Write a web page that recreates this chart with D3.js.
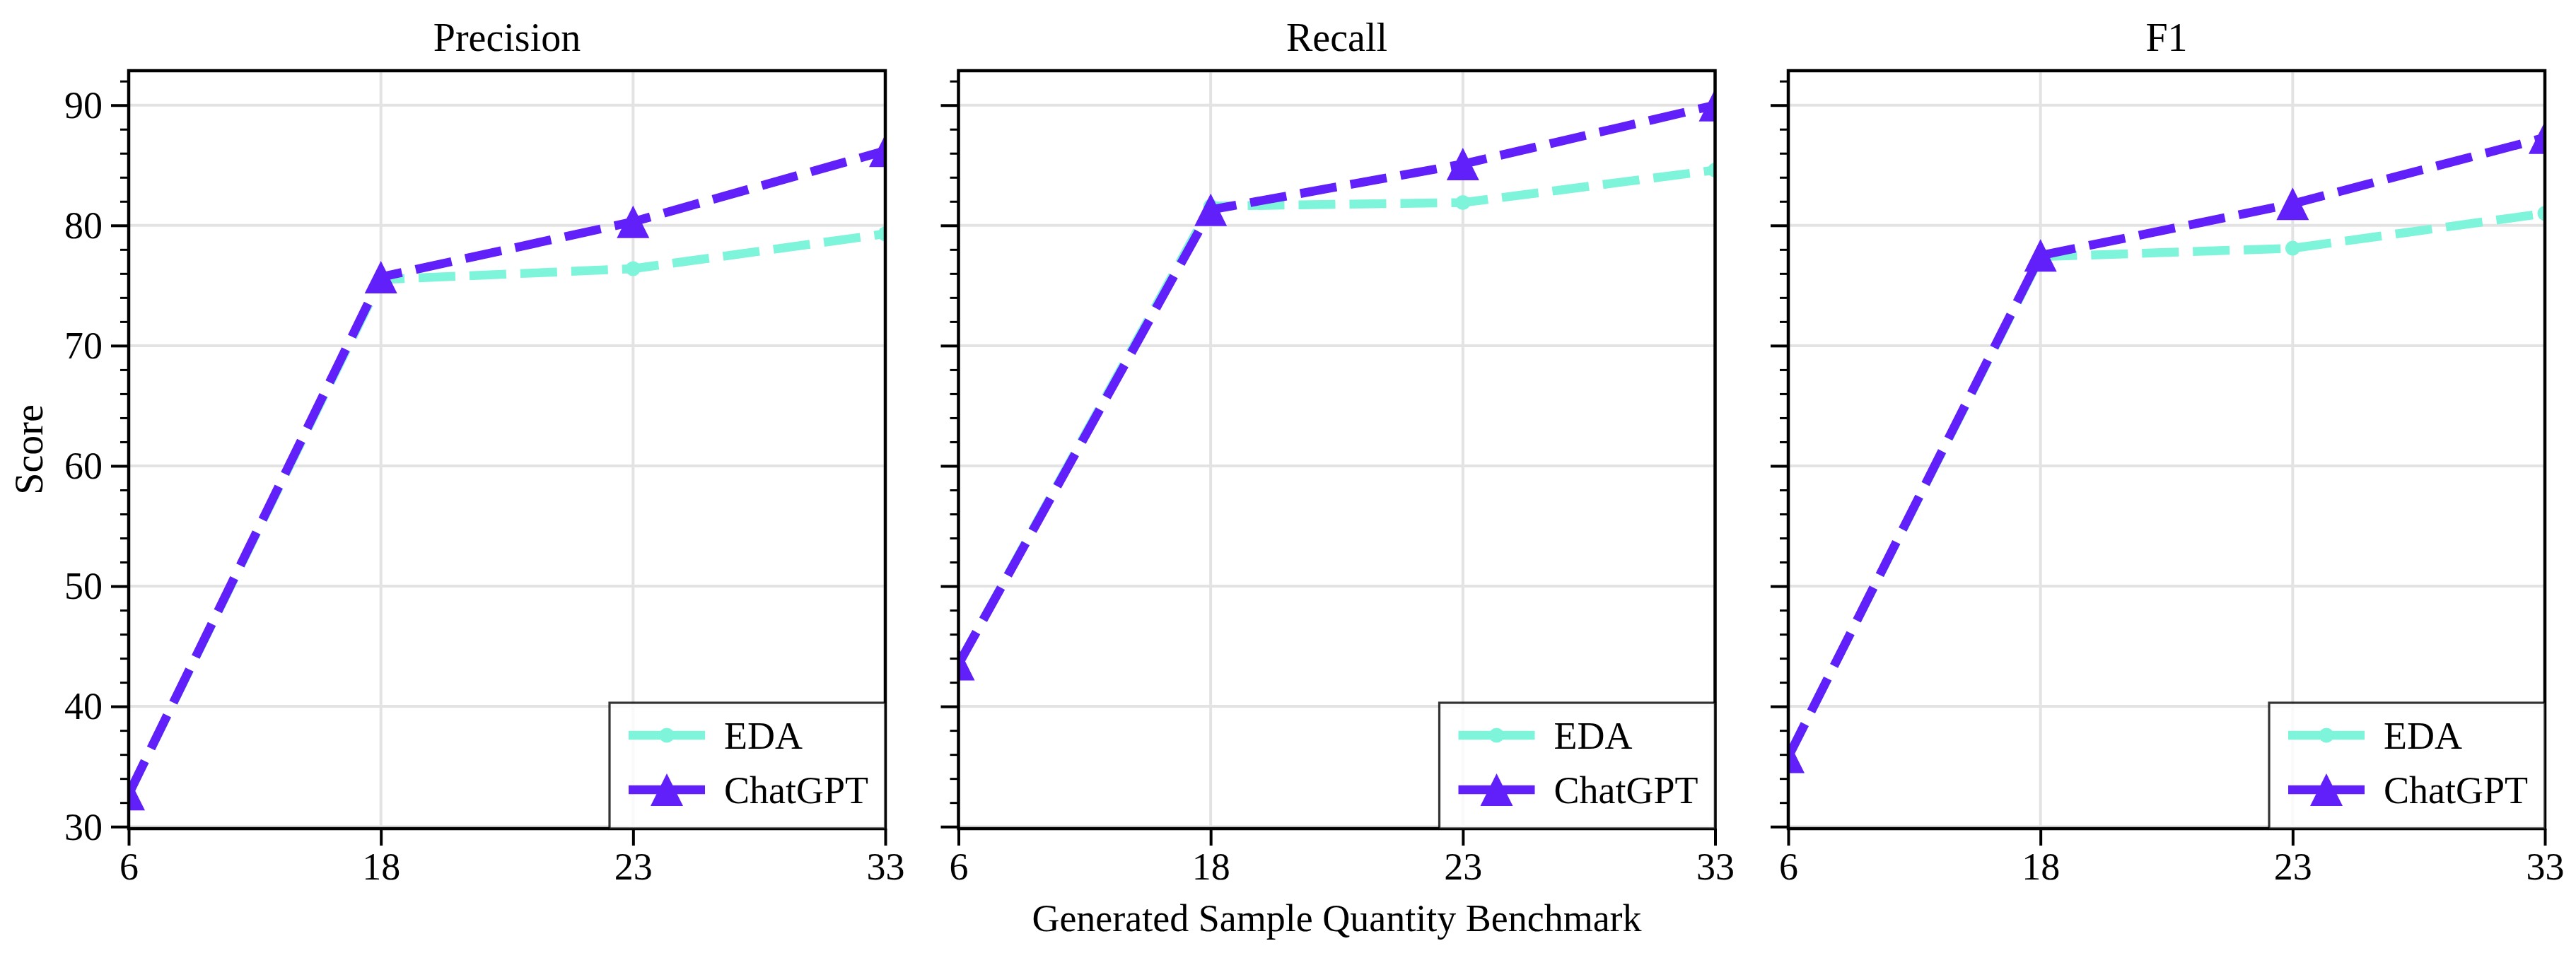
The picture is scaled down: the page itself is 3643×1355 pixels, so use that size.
<!DOCTYPE html>
<html>
<head>
<meta charset="utf-8">
<script src="https://cdn.jsdelivr.net/npm/d3@7"></script>
<style>
  body { margin: 0; background: #fff; }
  svg text { font-family: "Liberation Serif", "Times New Roman", serif; fill: #000; }
</style>
</head>
<body>
<div id="chart"></div>
<script>
// data
const categories = ["6", "18", "23", "33"];
const metrics = ["Precision", "Recall", "F1"];
const seriesNames = ["EDA", "ChatGPT"];

const edaPrecision = [32.7, 75.5, 76.4, 79.3];
const gptPrecision = [32.7, 75.7, 80.3, 86.2];
const edaRecall = [43.5, 81.6, 81.9, 84.6];
const gptRecall = [43.5, 81.3, 85.1, 90.0];
const edaF1 = [35.8, 77.4, 78.1, 81.0];
const gptF1 = [35.8, 77.5, 81.8, 87.3];

const yTickValues = [30, 40, 50, 60, 70, 80, 90];

const colors = { EDA: "#7ef4da", ChatGPT: "#611ff9" };

var panels = [
  { title: metrics[0], EDA: edaPrecision, ChatGPT: gptPrecision },
  { title: metrics[1], EDA: edaRecall, ChatGPT: gptRecall },
  { title: metrics[2], EDA: edaF1, ChatGPT: gptF1 }
];

var svgWidth = 3643;
var svgHeight = 1355;
var plotTop = 100;
var plotBottom = 1172;
var panelLeft = [182, 1355.5, 2529];
var panelWidth = 1070;
var chartHeight = plotBottom - plotTop;

var svg = d3.select("#chart")
  .append("svg")
  .attr("width", svgWidth)
  .attr("height", svgHeight);

// shared y range with matplotlib style 5% margins
var allValues = [].concat(edaPrecision, gptPrecision, edaRecall, gptRecall, edaF1, gptF1);
var yMin = d3.min(allValues), yMax = d3.max(allValues);
var yPad = (yMax - yMin) * 0.05;

var yScale = d3.scaleLinear()
  .domain([yMin - yPad, yMax + yPad])
  .range([chartHeight, 0]);

var xScale = d3.scalePoint()
  .domain(categories)
  .range([0, panelWidth])
  .padding(0);

var minorTicks = d3.range(30, yMax + yPad, 2).filter(v => v % 10 !== 0);

// triangle like matplotlib "^": width == height
var triangleUp = {
  draw: function(ctx, size) {
    var h = Math.sqrt(size) / 2;
    ctx.moveTo(0, -h);
    ctx.lineTo(h, h);
    ctx.lineTo(-h, h);
    ctx.closePath();
  }
};
var markerShape = {
  EDA: d3.symbol().type(d3.symbolCircle).size(Math.PI * 10.5 * 10.5),
  ChatGPT: d3.symbol().type(triangleUp).size(46 * 46)
};

var line = d3.line()
  .x((d, i) => xScale(categories[i]))
  .y(d => yScale(d));

panels.forEach(function(p, pi) {
  var g = svg.append("g")
    .attr("transform", `translate(${panelLeft[pi]}, ${plotTop})`);

  g.append("clipPath")
    .attr("id", "clip" + pi)
    .append("rect")
    .attr("width", panelWidth)
    .attr("height", chartHeight);

  // grid
  g.append("g").selectAll("line")
    .data(yTickValues)
    .enter().append("line")
    .attr("x1", 0).attr("x2", panelWidth)
    .attr("y1", d => yScale(d)).attr("y2", d => yScale(d))
    .attr("stroke", "#e3e3e3").attr("stroke-width", 4);
  g.append("g").selectAll("line")
    .data(categories)
    .enter().append("line")
    .attr("x1", d => xScale(d)).attr("x2", d => xScale(d))
    .attr("y1", 0).attr("y2", chartHeight)
    .attr("stroke", "#e3e3e3").attr("stroke-width", 4);

  // y axis (major + minor)
  var yAxis = d3.axisLeft(yScale)
    .tickValues(yTickValues)
    .tickSize(25)
    .tickPadding(12)
    .tickFormat(pi === 0 ? d3.format("d") : "");
  var yg = g.append("g").call(yAxis);
  yg.select(".domain").remove();
  yg.selectAll(".tick line").attr("stroke", "#000").attr("stroke-width", 4);
  yg.selectAll(".tick text").attr("font-size", 54).attr("dy", "0.33em")
    .style("font-family", "'Liberation Serif', serif");

  var ymg = g.append("g").call(d3.axisLeft(yScale).tickValues(minorTicks).tickSize(12).tickFormat(""));
  ymg.select(".domain").remove();
  ymg.selectAll(".tick line").attr("stroke", "#000").attr("stroke-width", 3);

  // x axis
  var xg = g.append("g")
    .attr("transform", `translate(0, ${chartHeight})`)
    .call(d3.axisBottom(xScale).tickSize(24).tickPadding(10));
  xg.select(".domain").remove();
  xg.selectAll(".tick line").attr("stroke", "#000").attr("stroke-width", 4);
  xg.selectAll(".tick text").attr("font-size", 54)
    .style("font-family", "'Liberation Serif', serif");

  // series
  var plot = g.append("g").attr("clip-path", `url(#clip${pi})`);
  seriesNames.forEach(function(name) {
    plot.append("path")
      .datum(p[name])
      .attr("d", line)
      .attr("fill", "none")
      .attr("stroke", colors[name])
      .attr("stroke-width", 12.5)
      .attr("stroke-dasharray", "52,20")
      .attr("stroke-linejoin", "round");
    plot.selectAll(".m-" + name)
      .data(p[name])
      .enter().append("path")
      .attr("class", "m-" + name)
      .attr("d", markerShape[name])
      .attr("transform", (d, i) => `translate(${xScale(categories[i])}, ${yScale(d)})`)
      .attr("fill", colors[name]);
  });

  // spines
  g.append("rect")
    .attr("width", panelWidth)
    .attr("height", chartHeight)
    .attr("fill", "none")
    .attr("stroke", "#000")
    .attr("stroke-width", 4.5);

  // title
  g.append("text")
    .attr("x", panelWidth / 2)
    .attr("y", 72 - plotTop)
    .attr("text-anchor", "middle")
    .attr("font-size", 56)
    .text(p.title);

  // legend, lower right, flush with the axes
  var lw = 390, lh = 178;
  var leg = g.append("g")
    .attr("transform", `translate(${panelWidth - lw}, ${chartHeight - lh})`);
  leg.append("rect")
    .attr("width", lw).attr("height", lh)
    .attr("fill", "#fff").attr("fill-opacity", 0.8)
    .attr("stroke", "#000").attr("stroke-opacity", 0.8)
    .attr("stroke-width", 3.2);
  seriesNames.forEach(function(name, i) {
    var cy = 46 + i * 77;
    leg.append("line")
      .attr("x1", 27).attr("x2", 135)
      .attr("y1", cy).attr("y2", cy)
      .attr("stroke", colors[name]).attr("stroke-width", 12.5);
    leg.append("path")
      .attr("d", markerShape[name])
      .attr("transform", `translate(81, ${cy})`)
      .attr("fill", colors[name]);
    leg.append("text")
      .attr("x", 162)
      .attr("y", cy + 19)
      .attr("font-size", 54)
      .text(name);
  });
});

// shared labels
svg.append("text")
  .attr("x", panelLeft[1] + panelWidth / 2)
  .attr("y", 1317)
  .attr("text-anchor", "middle")
  .attr("font-size", 54)
  .text("Generated Sample Quantity Benchmark");

svg.append("text")
  .attr("transform", `translate(60, ${(plotTop + plotBottom) / 2}) rotate(-90)`)
  .attr("text-anchor", "middle")
  .attr("font-size", 56)
  .text("Score");
</script>
</body>
</html>
